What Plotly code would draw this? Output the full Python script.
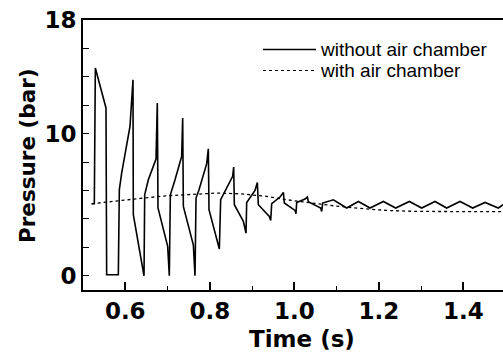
import plotly.graph_objects as go

# Solid line: without air chamber (time s, pressure bar)
t_without = [0.5205, 0.5268, 0.5292, 0.5544, 0.5560, 0.5836, 0.5860, 0.5915, 0.6112, 0.6160,
             0.6183, 0.6191, 0.6444, 0.6460, 0.6546, 0.6728, 0.6759, 0.6775, 0.7004, 0.7043,
             0.7067, 0.7178, 0.7335, 0.7359, 0.7375, 0.7611, 0.7651, 0.7675, 0.7746, 0.7927,
             0.7966, 0.7982, 0.8227, 0.8258, 0.8361, 0.8542, 0.8566, 0.8582, 0.8795, 0.8858,
             0.8874, 0.9071, 0.9126, 0.9150, 0.9410, 0.9442, 0.9466, 0.9663, 0.9742, 0.9765,
             1.0018, 1.0041, 1.0057, 1.0254, 1.0310, 1.0333, 1.0625, 1.0649, 1.0673, 1.0925,
             1.1241, 1.1517, 1.1793, 1.2108, 1.2400, 1.2724, 1.3016, 1.3331, 1.3607, 1.3923,
             1.4223, 1.4515, 1.4830, 1.4940]
p_without = [5.07, 5.07, 14.62, 11.81, 0.07, 0.07, 6.06, 7.23, 10.52, 13.22,
             13.80, 4.30, 0.00, 5.70, 6.76, 8.22, 12.16, 4.77, 2.07, 0.00,
             5.70, 6.76, 8.40, 11.10, 4.88, 2.18, 0.00, 5.47, 6.06, 7.89,
             8.94, 4.65, 1.88, 5.35, 5.94, 7.00, 7.65, 5.00, 3.83, 3.00,
             5.16, 6.01, 6.57, 5.00, 4.18, 3.90, 5.07, 5.54, 5.87, 5.12,
             4.60, 4.37, 5.16, 5.40, 5.54, 5.21, 4.77, 4.53, 5.12, 5.35,
             4.77, 5.23, 4.77, 5.23, 4.77, 5.23, 4.77, 5.23, 4.77, 5.23,
             4.77, 5.16, 4.77, 5.00]

# Dashed line: with air chamber
t_with = [0.5205, 0.5797, 0.6428, 0.6980, 0.7611, 0.8164, 0.8716, 0.9347, 0.9821,
          1.0373, 1.0925, 1.1556, 1.2187, 1.2897, 1.3686, 1.4940]
p_with = [5.07, 5.28, 5.47, 5.63, 5.75, 5.82, 5.77, 5.59, 5.35,
          5.12, 4.93, 4.74, 4.60, 4.53, 4.51, 4.51]

x_ticks = [0.6, 0.8, 1.0, 1.2, 1.4]
x_tick_labels = ["0.6", "0.8", "1.0", "1.2", "1.4"]
y_ticks = [0, 10, 18]
y_tick_labels = ["0", "10", "18"]
legend_labels = ["without air chamber", "with air chamber"]

W, H = 503, 353
L, R, T, B = 83, 0, 20, 63
PW, PH = W - L - R, H - T - B


def px_x(px):
    return (px - L) / PW


def px_y(py):
    return (H - B - py) / PH


fig = go.Figure()
fig.add_trace(go.Scatter(x=t_without, y=p_without, mode="lines",
                         line=dict(color="black", width=1.6), showlegend=False))
fig.add_trace(go.Scatter(x=t_with, y=p_with, mode="lines",
                         line=dict(color="black", width=1.3, dash="3px,3px"), showlegend=False))

tick_font = dict(family="DejaVu Sans", size=23, color="black", weight="bold")
title_font = dict(family="DejaVu Sans", size=23, color="black", weight="bold")
ytitle_font = dict(family="DejaVu Sans", size=21.5, color="black", weight="bold")

fig.update_layout(
    width=W, height=H,
    margin=dict(l=L, r=R, t=T, b=B, pad=0),
    paper_bgcolor="white", plot_bgcolor="white",
    xaxis=dict(range=[0.5, 1.494], tickvals=x_ticks, ticktext=x_tick_labels,
               ticks="inside", ticklen=8, tickwidth=1.5, tickcolor="black",
               showline=True, linecolor="black", linewidth=1.6, mirror=True,
               showgrid=False, zeroline=False, tickfont=tick_font,
               minor=dict(tickvals=[0.5, 0.7, 0.9, 1.1, 1.3], ticks="inside", ticklen=4,
                          tickwidth=1.2, tickcolor="black", showgrid=False)),
    yaxis=dict(range=[-1, 18], tickvals=y_ticks, ticktext=y_tick_labels,
               ticks="inside", ticklen=6, tickwidth=1.2, tickcolor="black",
               showline=True, linecolor="black", linewidth=1.6, mirror=False,
               showgrid=False, zeroline=False, tickfont=tick_font,
               minor=dict(tickvals=[2, 4, 6, 8, 12, 14, 16], ticks="inside", ticklen=6,
                          tickwidth=1.2, tickcolor="black", showgrid=False)),
)

# Axis titles
fig.add_annotation(text="Time (s)", xref="paper", yref="paper", x=px_x(302), y=px_y(339),
                   xanchor="center", yanchor="middle", showarrow=False, font=title_font)
fig.add_annotation(text="Pressure (bar)", xref="paper", yref="paper", x=px_x(27), y=px_y(156),
                   xanchor="center", yanchor="middle", textangle=-90, showarrow=False,
                   font=ytitle_font)

# Legend (drawn manually to match sample length)
leg_font = dict(family="Liberation Sans, Arial", size=19, color="black")
rows = [49.5, 70.5]
styles = [dict(color="black", width=1.5), dict(color="black", width=1.2, dash="3px,3px")]
for label, ry, st in zip(legend_labels, rows, styles):
    fig.add_shape(type="line", xref="paper", yref="paper",
                  x0=px_x(263), x1=px_x(316), y0=px_y(ry), y1=px_y(ry), line=st)
    fig.add_annotation(text=label, xref="paper", yref="paper", x=px_x(318), y=px_y(ry),
                       xanchor="left", yanchor="middle", showarrow=False, font=leg_font)

fig.write_html("out.html")
